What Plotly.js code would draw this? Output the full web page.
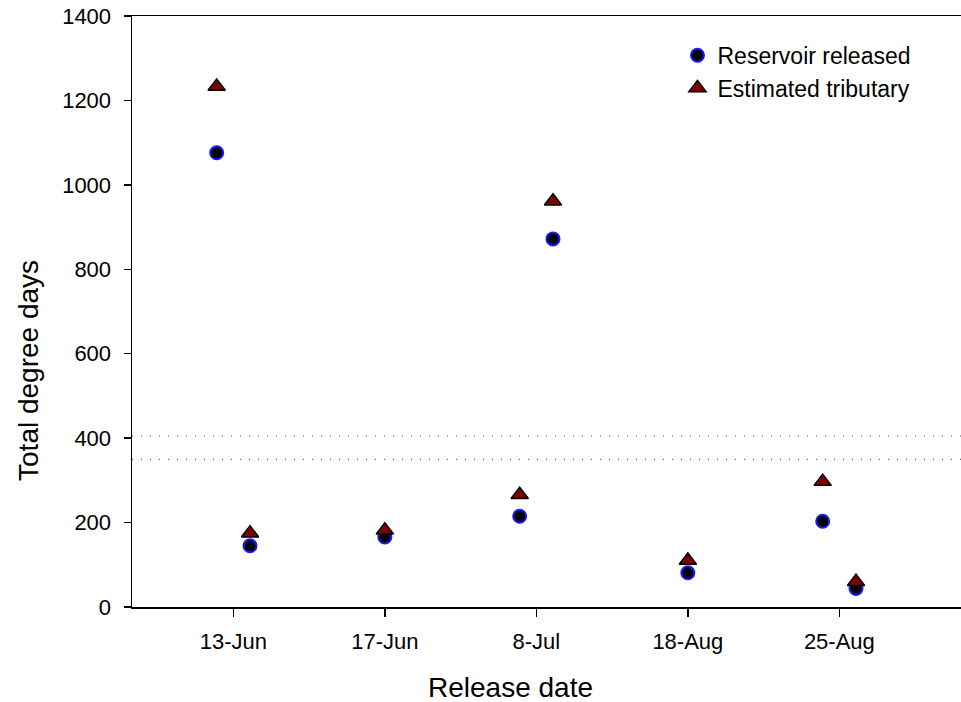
<!DOCTYPE html>
<html>
<head>
<meta charset="utf-8">
<script src="https://cdn.plot.ly/plotly-3.0.1.min.js"></script>
<style>html,body{margin:0;padding:0;background:#fff;}#chart{width:961px;height:702px;}</style>
</head>
<body>
<div id="chart"></div>
<script>
// Category tick labels and their positions on the x axis
var categories = ['13-Jun', '17-Jun', '8-Jul', '18-Aug', '25-Aug'];
var categoryPos = [1, 2, 3, 4, 5];
// x value of each release (two releases share some dates)
var releaseX = [0.89, 1.11, 2, 2.89, 3.11, 4, 4.89, 5.11];
// Total degree days
var reservoirReleased = [1076, 145, 166, 215, 872, 81, 203, 44];
var estimatedTributary = [1233, 175, 182, 266, 961, 110, 297, 60];
// Reference threshold lines
var thresholds = [405, 350];
var thresholdColors = ['#8a3a4a', '#2a2ad0'];
var yTicks = [0, 200, 400, 600, 800, 1000, 1200, 1400];

var font = "'Liberation Sans', Arial, sans-serif";

var traces = [
  {
    x: releaseX, y: reservoirReleased, type: 'scatter', mode: 'markers',
    name: 'Reservoir released', legendgroup: 'a',
    marker: {symbol: 'circle', size: 13, color: '#000000', line: {color: '#1a1aff', width: 2}}
  },
  {
    x: releaseX, y: estimatedTributary, type: 'scatter', mode: 'markers',
    name: 'Estimated tributary', legendgroup: 'b',
    marker: {symbol: 'triangle-up', size: 15, color: '#800000', line: {color: '#000000', width: 1.5}}
  }
];

var shapes = thresholds.map(function (v, i) {
  return {type: 'line', xref: 'paper', x0: 0, x1: 1, yref: 'y', y0: v, y1: v,
    line: {color: thresholdColors[i], width: 1, dash: '1px,8px'}};
});

var layout = {
  width: 961, height: 702,
  margin: {l: 132, r: 0, t: 16, b: 95},
  paper_bgcolor: '#ffffff', plot_bgcolor: '#ffffff',
  font: {family: font, color: '#000000', size: 22},
  showlegend: true,
  legend: {x: 0.658, y: 0.970, xanchor: 'left', yanchor: 'top', bgcolor: 'rgba(0,0,0,0)',
    font: {family: font, size: 23, color: '#000'}, tracegroupgap: 0, traceorder: 'normal'},
  xaxis: {
    range: [0.331, 5.803], tickmode: 'array', tickvals: categoryPos, ticktext: categories,
    showgrid: false, zeroline: false, showline: true, linecolor: '#000', linewidth: 1.5,
    mirror: true, ticks: 'outside', ticklen: 8, tickwidth: 1.5, tickcolor: '#000',
    tickfont: {family: font, size: 22}, ticklabelstandoff: 6
  },
  yaxis: {
    range: [0, 1400], tickmode: 'array', tickvals: yTicks,
    showgrid: false, zeroline: false, showline: true, linecolor: '#000', linewidth: 1.5,
    mirror: false, ticks: 'outside', ticklen: 7, tickwidth: 1.5, tickcolor: '#000',
    tickfont: {family: font, size: 22}, ticklabelstandoff: 8
  },
  annotations: [
    {text: 'Release date', xref: 'paper', yref: 'paper', x: 0.457, y: -0.137,
      xanchor: 'center', yanchor: 'middle', showarrow: false, font: {family: font, size: 28}},
    {text: 'Total degree days', xref: 'paper', yref: 'paper', x: -0.1255, y: 0.401,
      xanchor: 'center', yanchor: 'middle', textangle: -90, showarrow: false, font: {family: font, size: 28}}
  ],
  shapes: shapes
};

Plotly.newPlot('chart', traces, layout, {displayModeBar: false, staticPlot: true});
</script>
</body>
</html>
